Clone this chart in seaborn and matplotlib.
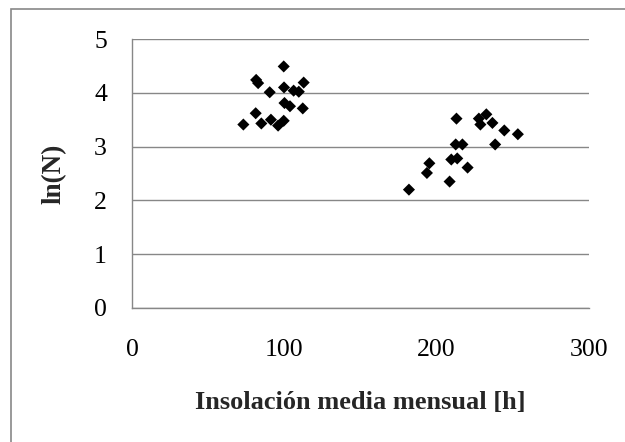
import matplotlib
matplotlib.use("Agg")
import matplotlib.pyplot as plt
import seaborn as sns
import pandas as pd
from matplotlib.patches import Rectangle

# Data
insolation = [73.1, 81.5, 82.8, 81.2, 84.9, 90.4, 91.2, 95.9, 99.6, 99.8,
               99.6, 100.1, 103.7, 106.1, 109.5, 112.7, 112.1,
               181.8, 193.6, 195.2, 208.5, 209.6, 213.5, 213.0, 212.5,
               216.9, 220.3, 227.7, 228.7, 232.6, 236.6, 238.4, 244.4, 253.3]
ln_n = [3.41, 4.24, 4.18, 3.62, 3.43, 4.01, 3.50, 3.39, 4.49, 4.10,
        3.48, 3.81, 3.75, 4.04, 4.02, 4.19, 3.71,
        2.20, 2.51, 2.69, 2.35, 2.76, 2.78, 3.52, 3.04,
        3.04, 2.61, 3.52, 3.41, 3.60, 3.44, 3.04, 3.30, 3.23]
x_ticks = [0, 100, 200, 300]
y_ticks = [0, 1, 2, 3, 4, 5]
x_label = "Insolación media mensual [h]"
y_label = "ln(N)"

df = pd.DataFrame({"x": insolation, "y": ln_n})

sns.set_style("white")
plt.rcParams["font.family"] = ["Liberation Serif", "DejaVu Serif"]

grid_col = "#878787"
fig = plt.figure(figsize=(6.25, 4.42), dpi=100)
ax = fig.add_axes([132 / 625, 1 - 308 / 442, (589 - 132) / 625, (308 - 39) / 442])

sns.scatterplot(data=df, x="x", y="y", marker="D", s=38, color="black",
                edgecolor="none", linewidth=0, ax=ax, zorder=3)

ax.set_xlim(0, 300)
ax.set_ylim(0, 5)
ax.set_xticks(x_ticks)
ax.set_yticks(y_ticks)
ax.set_xticklabels([str(t) for t in x_ticks], fontsize=18.5)
ax.set_yticklabels([str(t) for t in y_ticks], fontsize=18.5)
ax.yaxis.grid(True, color=grid_col, linewidth=1.0)
ax.xaxis.grid(False)
ax.set_axisbelow(True)
for side in ["top", "right"]:
    ax.spines[side].set_visible(False)
for side in ["left", "bottom"]:
    ax.spines[side].set_color(grid_col)
    ax.spines[side].set_linewidth(1.0)
ax.tick_params(axis="x", direction="out", length=6, width=1.0, color=grid_col,
               pad=16, labelcolor="black")
ax.tick_params(axis="y", length=0, pad=18, labelcolor="black")

ax.set_xlabel(x_label, fontsize=19, fontweight="bold", labelpad=22)
ax.set_ylabel(y_label, fontsize=19.5, fontweight="bold", labelpad=20)

fig.patches.append(Rectangle((11 / 625, -0.1), 1.2, (1 - 9 / 442) + 0.1,
                             transform=fig.transFigure, fill=False,
                             edgecolor=grid_col, linewidth=1.2))

fig.savefig("out.png", dpi=100)
